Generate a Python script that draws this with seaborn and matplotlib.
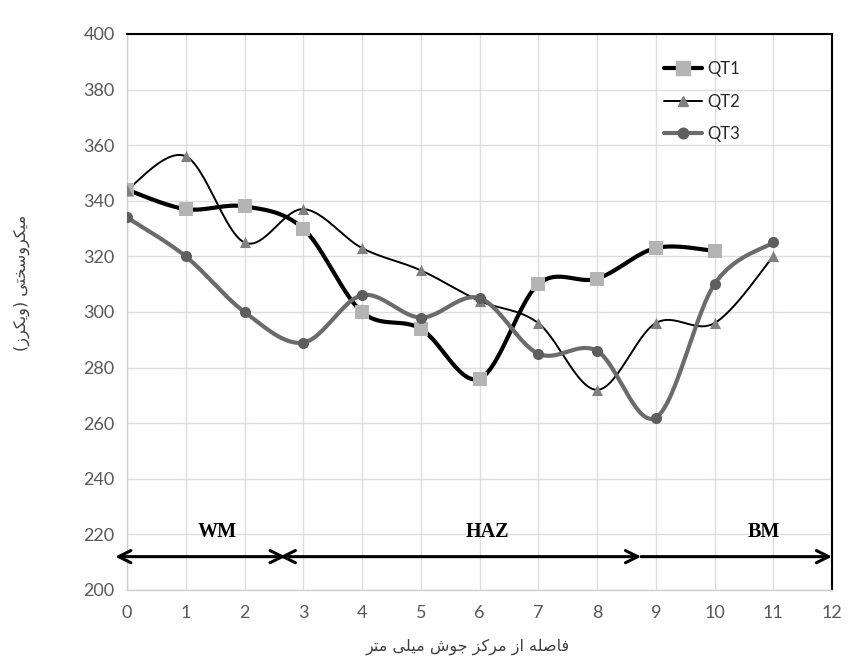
import numpy as np
import pandas as pd
import seaborn as sns
import matplotlib.pyplot as plt
from matplotlib.lines import Line2D
from matplotlib.ticker import MultipleLocator

# ---------------- data ----------------
qt1_x = [0, 1, 2, 3, 4, 5, 6, 7, 8, 9, 10]
qt1_y = [344, 337, 338, 330, 300, 294, 276, 310, 312, 323, 322]
qt2_x = [0, 1, 2, 3, 4, 5, 6, 7, 8, 9, 10, 11]
qt2_y = [344, 356, 325, 337, 323, 315, 304, 296, 272, 296, 296, 320]
qt3_x = [0, 1, 2, 3, 4, 5, 6, 7, 8, 9, 10, 11]
qt3_y = [334, 320, 300, 289, 306, 298, 305, 285, 286, 262, 310, 325]
series_names = ["QT1", "QT2", "QT3"]
x_ticks = list(range(0, 13))
y_ticks = list(range(200, 401, 20))
zone_names = ["WM", "HAZ", "BM"]
zone_bounds = [-0.2, 2.65, 8.75, 12.0]
ylabel_words = ["میکروسختی", "(ویکرز)"]
xlabel_words = ["فاصله", "از", "مرکز", "جوش", "میلی", "متر"]

# ------------- minimal Persian shaping (presentation forms) -------------
FORMS = {
    'ا': ('\uFE8D', '\uFE8E', None, None),
    'ت': ('\uFE95', '\uFE96', '\uFE97', '\uFE98'),
    'ج': ('\uFE9D', '\uFE9E', '\uFE9F', '\uFEA0'),
    'خ': ('\uFEA5', '\uFEA6', '\uFEA7', '\uFEA8'),
    'ر': ('\uFEAD', '\uFEAE', None, None),
    'ز': ('\uFEAF', '\uFEB0', None, None),
    'س': ('\uFEB1', '\uFEB2', '\uFEB3', '\uFEB4'),
    'ش': ('\uFEB5', '\uFEB6', '\uFEB7', '\uFEB8'),
    'ص': ('\uFEB9', '\uFEBA', '\uFEBB', '\uFEBC'),
    'ف': ('\uFED1', '\uFED2', '\uFED3', '\uFED4'),
    'ل': ('\uFEDD', '\uFEDE', '\uFEDF', '\uFEE0'),
    'م': ('\uFEE1', '\uFEE2', '\uFEE3', '\uFEE4'),
    'ه': ('\uFEE9', '\uFEEA', '\uFEEB', '\uFEEC'),
    'و': ('\uFEED', '\uFEEE', None, None),
    'ی': ('\uFBFC', '\uFBFD', '\uFBFE', '\uFBFF'),
    'ک': ('\uFB8E', '\uFB8F', '\uFB90', '\uFB91'),
}
MIRROR = {'(': ')', ')': '('}


def shape_word(w):
    out = []
    n = len(w)
    for i, c in enumerate(w):
        if c not in FORMS:
            out.append(c)
            continue
        prev_j = i > 0 and w[i - 1] in FORMS and FORMS[w[i - 1]][2] is not None
        next_j = (i < n - 1 and w[i + 1] in FORMS and FORMS[c][2] is not None)
        iso, fin, ini, med = FORMS[c]
        if prev_j and next_j:
            out.append(med)
        elif prev_j:
            out.append(fin)
        elif next_j:
            out.append(ini)
        else:
            out.append(iso)
    return ''.join(MIRROR.get(ch, ch) for ch in reversed(out))


ylabel_text = ' '.join(shape_word(w) for w in reversed(ylabel_words))
xlabel_text = ' '.join(shape_word(w) for w in reversed(xlabel_words))


# ------------- smooth (Excel-like) curves -------------
def smooth(xs, ys, n=30):
    P = np.column_stack([np.asarray(xs, float), np.asarray(ys, float)])
    m = len(P)
    pts = []
    t = np.linspace(0, 1, n)
    for i in range(m - 1):
        p0 = P[max(i - 1, 0)]
        p1 = P[i]
        p2 = P[i + 1]
        p3 = P[min(i + 2, m - 1)]
        c1 = p1 + (p2 - p0) / 6.0
        c2 = p2 - (p3 - p1) / 6.0
        seg = ((1 - t) ** 3)[:, None] * p1 + (3 * (1 - t) ** 2 * t)[:, None] * c1 \
            + (3 * (1 - t) * t ** 2)[:, None] * c2 + (t ** 3)[:, None] * p2
        if i > 0:
            seg = seg[1:]
        pts.append(seg)
    pts = np.vstack(pts)
    return pts[:, 0], pts[:, 1]


sns.set_style("white")
plt.rcParams['font.family'] = ['Lato', 'DejaVu Sans']

fig = plt.figure(figsize=(8.56, 6.61), dpi=100)
ax = fig.add_axes([127 / 856, 1 - 590 / 661, 705 / 856, 556 / 661])

styles = {
    "QT1": dict(lc="#000000", lw=3.0, marker="s", mc="#b4b4b4", ms=10.5),
    "QT2": dict(lc="#000000", lw=1.4, marker="^", mc="#808080", ms=8),
    "QT3": dict(lc="#6b6b6b", lw=3.0, marker="o", mc="#5e5e5e", ms=8),
}
data = {"QT1": (qt1_x, qt1_y), "QT2": (qt2_x, qt2_y), "QT3": (qt3_x, qt3_y)}

for name in series_names:
    xs, ys = data[name]
    st = styles[name]
    sx, sy = smooth(xs, ys)
    curve = pd.DataFrame({"x": sx, "y": sy})
    sns.lineplot(data=curve, x="x", y="y", sort=False, estimator=None,
                 color=st["lc"], lw=st["lw"], ax=ax, zorder=3)
    pts = pd.DataFrame({"x": xs, "y": ys})
    sns.scatterplot(data=pts, x="x", y="y", marker=st["marker"], color=st["mc"],
                    s=st["ms"] ** 2, edgecolor=st["mc"], linewidth=0, ax=ax, zorder=4)

ax.set_xlim(0, 12)
ax.set_ylim(200, 400)
ax.set_xticks(x_ticks)
ax.set_yticks(y_ticks)
ax.set_xticklabels([str(v) for v in x_ticks])
ax.set_yticklabels([str(v) for v in y_ticks])
ax.xaxis.set_minor_locator(MultipleLocator(0.2))
ax.grid(True, which="major", color="#e4dada", lw=1.0, zorder=0)
ax.set_axisbelow(True)

ax.tick_params(axis="x", which="major", length=5, direction="in", color="#c8c8c8",
               labelsize=13, labelcolor="#595959", pad=11)
ax.tick_params(axis="x", which="minor", length=3, direction="in", color="#c8c8c8")
ax.tick_params(axis="y", which="major", length=3, direction="out", color="#d0d0d0",
               labelsize=13, labelcolor="#595959", pad=6)

for side in ["top", "right"]:
    ax.spines[side].set_color("black")
    ax.spines[side].set_linewidth(1.5)
for side in ["left", "bottom"]:
    ax.spines[side].set_color("#cfcfcf")
    ax.spines[side].set_linewidth(1.0)

ax.set_xlabel("")
ax.set_ylabel("")
fig.text(22 / 856, 1 - 283 / 661, ylabel_text, rotation=90, ha="center", va="center",
         fontsize=11.5, color="#404040", family=["DejaVu Sans"])
fig.text(468 / 856, 1 - 647 / 661, xlabel_text, ha="center", va="center",
         fontsize=11.5, color="#404040", family=["DejaVu Sans"])

# zone arrows
arrow_y = 212
ax.annotate("", xy=(zone_bounds[0], arrow_y), xytext=(zone_bounds[1] + 0.05, arrow_y),
            arrowprops=dict(arrowstyle="<->", lw=2.2, color="black", mutation_scale=22,
                            shrinkA=0, shrinkB=0), annotation_clip=False)
ax.annotate("", xy=(zone_bounds[1] - 0.05, arrow_y), xytext=(zone_bounds[2], arrow_y),
            arrowprops=dict(arrowstyle="<->", lw=2.2, color="black", mutation_scale=22,
                            shrinkA=0, shrinkB=0), annotation_clip=False)
ax.annotate("", xy=(zone_bounds[3], arrow_y), xytext=(zone_bounds[2], arrow_y),
            arrowprops=dict(arrowstyle="->", lw=2.2, color="black", mutation_scale=22,
                            shrinkA=0, shrinkB=0), annotation_clip=False)
zone_label_x = [1.54, 6.14, 10.84]
for nm, zx in zip(zone_names, zone_label_x):
    ax.text(zx, 221, nm, ha="center", va="center", fontsize=14.5, fontweight="bold",
            family=["Liberation Serif"], color="black")

handles = [Line2D([0], [0], color=styles[n]["lc"], lw=styles[n]["lw"],
                  marker=styles[n]["marker"], markerfacecolor=styles[n]["mc"],
                  markeredgecolor=styles[n]["mc"], markersize=styles[n]["ms"] * 0.95)
           for n in series_names]
ax.legend(handles, series_names, loc="upper left", bbox_to_anchor=(0.752, 0.963),
          frameon=False, handlelength=2.3, labelspacing=0.98, fontsize=12,
          handletextpad=0.3, borderaxespad=0)

fig.savefig("out.png", dpi=100, facecolor="white")
